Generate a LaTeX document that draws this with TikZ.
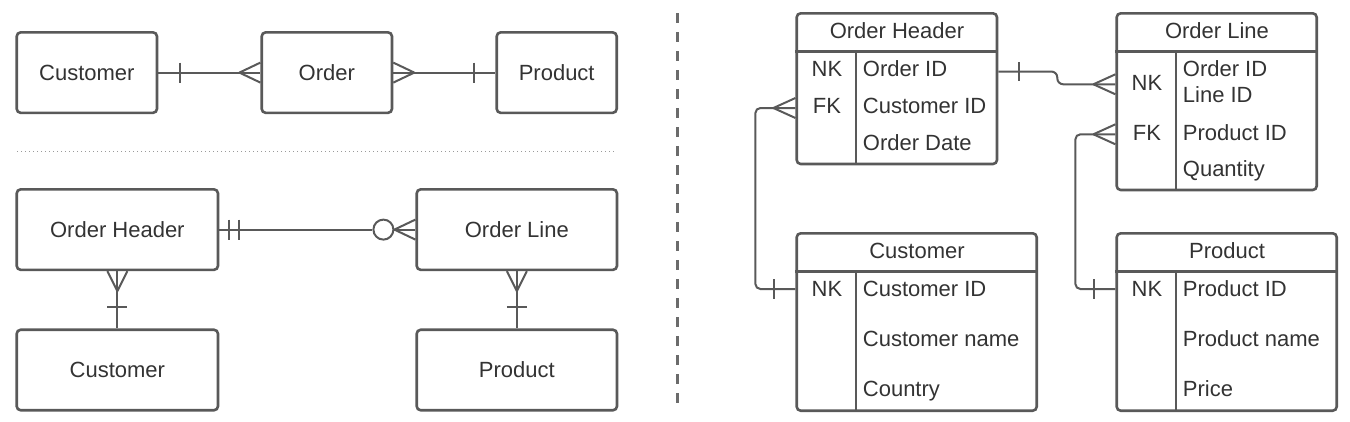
\documentclass[tikz,border=0pt]{standalone}
\usepackage{fontspec}
\setmainfont{Liberation Sans}
\usetikzlibrary{calc}
\definecolor{lc}{HTML}{595959}
\definecolor{tc}{HTML}{333333}
\definecolor{dotc}{HTML}{9A9A9A}
\definecolor{dashc}{HTML}{6B6B6B}
\begin{document}
\begin{tikzpicture}[x=1pt,y=-1pt,
  ent/.style={draw=lc,line width=2.6pt,rounded corners=4pt,fill=white,inner sep=0pt,text=tc,
    font=\fontsize{22}{26}\selectfont,text height=15.75pt,text depth=0pt,minimum height=80.5pt},
  tbl/.style={draw=lc,line width=2.6pt,rounded corners=4pt,inner sep=0pt},
  txt/.style={inner sep=0pt,text=tc,font=\fontsize{22}{26}\selectfont,text height=15.75pt,text depth=0pt},
  conn/.style={draw=lc,line width=2pt},
  divl/.style={draw=lc,line width=2.6pt},
]
\useasboundingbox (0,0) rectangle (1350,421);

% ---------- separators ----------
\coordinate (dotL) at (17,151);
\coordinate (dotR) at (617,151);
\draw[dotc,line width=1pt,dash pattern=on 1pt off 3pt] (dotL) -- (dotR);
\coordinate (dashT) at (677,13);
\coordinate (dashB) at (677,406);
\draw[dashc,line width=3pt,dash pattern=on 10pt off 9pt] (dashT) -- (dashB);

% ---------- top left ----------
\node[ent,minimum width=140.3pt] (c1) at (86.85,72.6) {Customer};
\node[ent,minimum width=130.3pt] (o1) at (326.85,72.6) {Order};
\node[ent,minimum width=120pt] (p1) at (556.7,72.6) {Product};

\draw[conn] (c1.east) -- (o1.west);
\draw[conn] ($(c1.east)+(22,-10)$) -- ($(c1.east)+(22,10)$);
\draw[conn] ($(o1.west)+(-21,0)$) -- ($(o1.west)+(0,-10)$);
\draw[conn] ($(o1.west)+(-21,0)$) -- ($(o1.west)+(0,10)$);

\draw[conn] (o1.east) -- (p1.west);
\draw[conn] ($(o1.east)+(21,0)$) -- ($(o1.east)+(0,-10)$);
\draw[conn] ($(o1.east)+(21,0)$) -- ($(o1.east)+(0,10)$);
\draw[conn] ($(p1.west)+(-21,-10)$) -- ($(p1.west)+(-21,10)$);

% ---------- bottom left ----------
\node[ent,minimum width=201.3pt] (oh2) at (117.35,229.6) {Order Header};
\node[ent,minimum width=200.3pt] (ol2) at (516.85,229.6) {Order Line};
\node[ent,minimum width=201.3pt] (cu2) at (117.35,370) {Customer};
\node[ent,minimum width=200.3pt] (pr2) at (516.85,370) {Product};

\node[circle,draw=lc,line width=2pt,minimum size=20pt,inner sep=0pt] (circ) at ($(ol2.west)+(-32,0)$) {};
\draw[conn] (oh2.east) -- (circ.west);
\draw[conn] ($(oh2.east)+(10,-10)$) -- ($(oh2.east)+(10,10)$);
\draw[conn] ($(oh2.east)+(20,-10)$) -- ($(oh2.east)+(20,10)$);
\draw[conn] (circ.east) -- (ol2.west);
\draw[conn] (circ.east) -- ($(ol2.west)+(0,-10)$);
\draw[conn] (circ.east) -- ($(ol2.west)+(0,10)$);

\draw[conn] (oh2.south) -- (cu2.north);
\draw[conn] ($(oh2.south)+(0,20)$) -- ($(oh2.south)+(-10,0)$);
\draw[conn] ($(oh2.south)+(0,20)$) -- ($(oh2.south)+(10,0)$);
\draw[conn] ($(cu2.north)+(-10,-21.5)$) -- ($(cu2.north)+(10,-21.5)$);

\draw[conn] (ol2.south) -- (pr2.north);
\draw[conn] ($(ol2.south)+(0,20)$) -- ($(ol2.south)+(-10,0)$);
\draw[conn] ($(ol2.south)+(0,20)$) -- ($(ol2.south)+(10,0)$);
\draw[conn] ($(pr2.north)+(-10,-21.5)$) -- ($(pr2.north)+(10,-21.5)$);

% ---------- right: tables ----------
% Order Header
\node[tbl,minimum width=200.3pt,minimum height=150.7pt] (T1) at (896.85,88.65) {};
\draw[divl] ($(T1.north west)+(0,39.4)$) -- ($(T1.north east)+(0,39.4)$);
\draw[divl] ($(T1.north west)+(60.6,39.4)$) -- ($(T1.south west)+(60.6,0)$);
\node[txt] (t1h) at (897,31) {Order Header};
\node[txt] (t1nk) at (827,69) {NK};
\node[txt] (t1fk) at (827,106) {FK};
\node[txt,anchor=west] (t1a) at (862.7,69) {Order ID};
\node[txt,anchor=west] (t1b) at (862.7,106) {Customer ID};
\node[txt,anchor=west] (t1c) at (862.7,142.7) {Order Date};

% Order Line
\node[tbl,minimum width=200pt,minimum height=176.7pt] (T2) at (1216.7,101.65) {};
\draw[divl] ($(T2.north west)+(0,39.4)$) -- ($(T2.north east)+(0,39.4)$);
\draw[divl] ($(T2.north west)+(60.6,39.4)$) -- ($(T2.south west)+(60.6,0)$);
\node[txt] (t2h) at (1217,31) {Order Line};
\node[txt] (t2nk) at (1147,82.7) {NK};
\node[txt] (t2fk) at (1147,132.3) {FK};
\node[txt,anchor=west] (t2a) at (1182.7,68.3) {Order ID};
\node[txt,anchor=west] (t2b) at (1182.7,95) {Line ID};
\node[txt,anchor=west] (t2c) at (1182.7,132.3) {Product ID};
\node[txt,anchor=west] (t2d) at (1182.7,168.3) {Quantity};

% Customer
\node[tbl,minimum width=240pt,minimum height=177.4pt] (T3) at (916.7,322) {};
\draw[divl] ($(T3.north west)+(0,39.4)$) -- ($(T3.north east)+(0,39.4)$);
\draw[divl] ($(T3.north west)+(60.6,39.4)$) -- ($(T3.south west)+(60.6,0)$);
\node[txt] (t3h) at (917,250.7) {Customer};
\node[txt] (t3nk) at (827,289) {NK};
\node[txt,anchor=west] (t3a) at (862.7,289) {Customer ID};
\node[txt,anchor=west] (t3b) at (862.7,338.5) {Customer name};
\node[txt,anchor=west] (t3c) at (862.7,388.3) {Country};

% Product
\node[tbl,minimum width=220pt,minimum height=177.4pt] (T4) at (1226.7,322) {};
\draw[divl] ($(T4.north west)+(0,39.4)$) -- ($(T4.north east)+(0,39.4)$);
\draw[divl] ($(T4.north west)+(60.6,39.4)$) -- ($(T4.south west)+(60.6,0)$);
\node[txt] (t4h) at (1227,250.7) {Product};
\node[txt] (t4nk) at (1147,289) {NK};
\node[txt,anchor=west] (t4a) at (1182.7,289) {Product ID};
\node[txt,anchor=west] (t4b) at (1182.7,338.5) {Product name};
\node[txt,anchor=west] (t4c) at (1182.7,388.3) {Price};

% ---------- right: connectors ----------
% Order Header (Order ID) -> Order Line (NK)
\coordinate (r1s) at ($(T1.east |- t1nk)+(0,2.5)$);
\coordinate (r1e) at ($(T2.west |- t2nk)+(0,1.6)$);
\coordinate (r1a) at ($(r1s)+(59,0)$);
\coordinate (r1b) at (r1a |- r1e);
\draw[conn,rounded corners=6pt] (r1s) -- (r1a) -- (r1b) -- (r1e);
\draw[conn] ($(r1s)+(20.7,-9.5)$) -- ($(r1s)+(20.7,9.5)$);
\draw[conn] ($(r1e)+(-22,0)$) -- ($(r1e)+(0,-10)$);
\draw[conn] ($(r1e)+(-22,0)$) -- ($(r1e)+(0,10)$);

% Order Header (FK) -> Customer (NK)
\coordinate (r2s) at ($(T1.west |- t1fk)+(0,2)$);
\coordinate (r2e) at (T3.west |- t3nk);
\draw[conn,rounded corners=5pt] (r2s) -- ($(r2s)+(-40,0)$) -- ($(r2e)+(-40,0)$) -- (r2e);
\draw[conn] ($(r2s)+(-22,0)$) -- ($(r2s)+(0,-10)$);
\draw[conn] ($(r2s)+(-22,0)$) -- ($(r2s)+(0,10)$);
\draw[conn] ($(r2e)+(-21,-10)$) -- ($(r2e)+(-21,10)$);

% Order Line (FK) -> Product (NK)
\coordinate (r3s) at ($(T2.west |- t2fk)+(0,2)$);
\coordinate (r3e) at (T4.west |- t4nk);
\draw[conn,rounded corners=5pt] (r3s) -- ($(r3s)+(-40,0)$) -- ($(r3e)+(-40,0)$) -- (r3e);
\draw[conn] ($(r3s)+(-22,0)$) -- ($(r3s)+(0,-10)$);
\draw[conn] ($(r3s)+(-22,0)$) -- ($(r3s)+(0,10)$);
\draw[conn] ($(r3e)+(-21,-10)$) -- ($(r3e)+(-21,10)$);
\end{tikzpicture}
\end{document}
